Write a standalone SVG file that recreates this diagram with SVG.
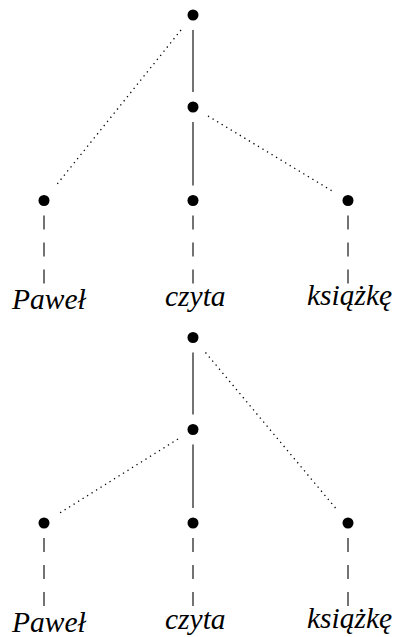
<svg xmlns="http://www.w3.org/2000/svg" width="395" height="637" viewBox="0 0 395 637">
<rect x="0" y="0" width="395" height="637" fill="#fff"/>
<g id="connectors" fill="none" stroke="#000">
  <g id="solid-edges" stroke-width="1.1">
    <line x1="193" y1="30" x2="193" y2="92"/>
    <line x1="193" y1="122" x2="193" y2="185.5"/>
    <line x1="193" y1="352.5" x2="193" y2="414.5"/>
    <line x1="193" y1="444.5" x2="193" y2="508"/>
  </g>
  <g id="dotted-edges" stroke-width="1.3" stroke-dasharray="1.3 4">
    <line x1="181" y1="30" x2="56" y2="185.5"/>
    <line x1="208" y1="116" x2="333" y2="191.5"/>
    <line x1="178" y1="439" x2="59" y2="513.5"/>
    <line x1="205.5" y1="352.5" x2="335.5" y2="508"/>
  </g>
  <g id="dashed-edges" stroke-width="1.1" stroke-dasharray="14 13">
    <line x1="44" y1="215.5" x2="44" y2="283.5"/>
    <line x1="193" y1="215.5" x2="193" y2="283.5"/>
    <line x1="348" y1="215.5" x2="348" y2="283.5"/>
    <line x1="44" y1="538" x2="44" y2="606"/>
    <line x1="193" y1="538" x2="193" y2="606"/>
    <line x1="348" y1="538" x2="348" y2="606"/>
  </g>
</g>
<g id="nodes" fill="#000">
  <g id="t1-root"><circle cx="193" cy="15" r="5.5"/></g>
  <g id="t1-mid"><circle cx="193" cy="107" r="5.5"/></g>
  <g id="t1-n1"><circle cx="44" cy="200.5" r="5.5"/></g>
  <g id="t1-n2"><circle cx="193" cy="200.5" r="5.5"/></g>
  <g id="t1-n3"><circle cx="348" cy="200.5" r="5.5"/></g>
  <g id="t2-root"><circle cx="193" cy="337.5" r="5.5"/></g>
  <g id="t2-mid"><circle cx="193" cy="429.5" r="5.5"/></g>
  <g id="t2-n1"><circle cx="44" cy="523" r="5.5"/></g>
  <g id="t2-n2"><circle cx="193" cy="523" r="5.5"/></g>
  <g id="t2-n3"><circle cx="348" cy="523" r="5.5"/></g>
</g>
<g id="t1-w1"><text x="12" y="309" font-family="Liberation Serif" font-style="italic" font-size="29.5">Paweł</text></g>
<g id="t1-w2"><text x="165" y="306" font-family="Liberation Serif" font-style="italic" font-size="29.5">czyta</text></g>
<g id="t1-w3"><text x="307" y="305" font-family="Liberation Serif" font-style="italic" font-size="29.5">książkę</text></g>
<g id="t2-w1"><text x="12" y="631.5" font-family="Liberation Serif" font-style="italic" font-size="29.5">Paweł</text></g>
<g id="t2-w2"><text x="165" y="628.5" font-family="Liberation Serif" font-style="italic" font-size="29.5">czyta</text></g>
<g id="t2-w3"><text x="307" y="627.5" font-family="Liberation Serif" font-style="italic" font-size="29.5">książkę</text></g>
</svg>
